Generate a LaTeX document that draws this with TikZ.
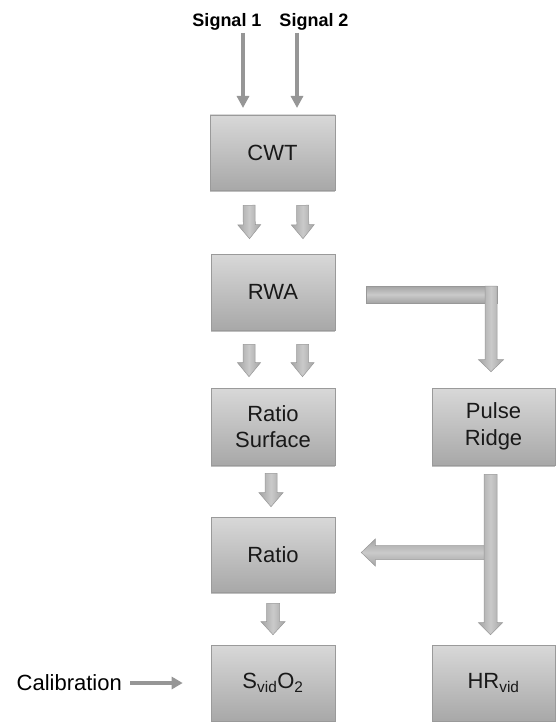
\documentclass[tikz,border=0pt]{standalone}
\usepackage{fontspec}
\setmainfont{Liberation Sans}
\usetikzlibrary{calc,arrows.meta,shadows}
\definecolor{boxtop}{HTML}{D8D8D8}
\definecolor{boxbot}{HTML}{A8A8A8}
\definecolor{boxline}{HTML}{9A9A9A}
\definecolor{arredge}{HTML}{A4A4A4}
\definecolor{arrmid}{HTML}{CACACA}
\definecolor{arrline}{HTML}{989898}
\definecolor{thinarr}{HTML}{969696}
\tikzset{
  procbox/.style={draw=boxline, line width=0.6pt, top color=boxtop, bottom color=boxbot,
    minimum width=124pt, minimum height=76pt, inner sep=2pt, align=center,
    font=\fontsize{22}{26.5}\selectfont, text=black!90,
    drop shadow={shadow xshift=0pt, shadow yshift=-2pt, opacity=0.25, fill=black}},
  fatv/.style={draw=arrline, line width=0.5pt, left color=arredge, right color=arredge, middle color=arrmid},
  fath/.style={draw=arrline, line width=0.5pt, top color=arredge, bottom color=arredge, middle color=arrmid},
  thinarrow/.style={draw=thinarr, line width=3.5pt, -{Triangle[width=12pt,length=12pt]}},
  siglabel/.style={font=\fontsize{18}{21}\selectfont\bfseries, inner sep=0pt, anchor=base},
}
% fat arrow from coordinate #2 to tip #3; #4 shaft half width, #5 head half width, #6 head length
\newcommand\fatarrow[6]{%
  \coordinate (fa@s) at (#2);
  \coordinate (fa@e) at (#3);
  \coordinate (fa@b) at ($(fa@e)!#6!(fa@s)$);
  \path[#1] ($(fa@s)!#4!90:(fa@e)$) -- ($(fa@b)!#4!90:(fa@e)$) -- ($(fa@b)!#5!90:(fa@e)$)
    -- (fa@e) -- ($(fa@b)!#5!-90:(fa@e)$) -- ($(fa@b)!#4!-90:(fa@e)$)
    -- ($(fa@s)!#4!-90:(fa@e)$) -- cycle;
}
\begin{document}
\begin{tikzpicture}[x=1pt,y=-1pt]
\useasboundingbox (0,0) rectangle (558,722);

% boxes
\node[procbox, minimum width=125pt, minimum height=75pt] (cwt) at (272.5,152.5) {CWT};
\node[procbox] (rwa) at (273,292) {RWA};
\node[procbox, minimum height=77pt] (rs) at (273,426.5) {Ratio\\Surface};
\node[procbox, minimum width=123pt, minimum height=77pt] (pr) at (493.5,426.5) {Pulse\\Ridge};
\node[procbox, minimum height=75pt] (ratio) at (273,554.5) {Ratio};
\node[procbox] (svid) at (273,683) {S\textsubscript{vid}O\textsubscript{2}};
\node[procbox, minimum width=123pt] (hr) at (493.5,683) {HR\textsubscript{vid}};

% signal labels
\node[siglabel] (sig1) at (227,27) {Signal 1};
\node[siglabel] (sig2) at (314,27) {Signal 2};
\node[font=\fontsize{22}{26}\selectfont, inner sep=0pt, anchor=base east] (calib) at (122,690) {Calibration};

% thin arrows
\draw[thinarrow] ($(sig1.base)+(16,6)$) -- ($(sig1.base -| cwt.north)+(-29.5,81)$);
\draw[thinarrow] ($(sig2.base)+(-17,6)$) -- ($(sig2.base -| cwt.north)+(24.5,81)$);
\draw[draw=thinarr, line width=4pt, -{Triangle[width=12pt,length=11pt]}, shorten <=8pt, shorten >=28pt] (calib.east |- svid.west) -- (svid.west);

% CWT -> RWA
\fatarrow{fatv}{$(cwt.south)+(-23.5,15)$}{$(rwa.north)+(-23.5,-15)$}{6pt}{11.5pt}{14pt}
\fatarrow{fatv}{$(cwt.south)+(30,15)$}{$(rwa.north)+(30,-15)$}{6pt}{11.5pt}{14pt}
% RWA -> Ratio Surface
\fatarrow{fatv}{$(rwa.south)+(-24,14)$}{$(rs.north)+(-24,-11)$}{6pt}{11.5pt}{14pt}
\fatarrow{fatv}{$(rwa.south)+(29.5,14)$}{$(rs.north)+(29.5,-11)$}{6pt}{11.5pt}{14pt}
% Ratio Surface -> Ratio
\fatarrow{fatv}{$(rs.south)+(-2,8)$}{$(ratio.north)+(-2,-10)$}{6pt}{12pt}{14pt}
% Ratio -> SvidO2
\fatarrow{fatv}{$(ratio.south)+(0,11)$}{$(svid.north)+(0,-10)$}{6.5pt}{12pt}{13pt}

% RWA -> Pulse Ridge (L shape)
\coordinate (lstart) at ($(rwa.east)+(31,2.5)$);
\coordinate (lcorner) at ($(lstart -| pr.north)+(-2.5,0)$);
\path[fath] ($(lstart)+(0,-8.5)$) rectangle ($(lcorner)+(6,8.5)$);
\fatarrow{fatv}{$(lcorner)+(0,-8.5)$}{$(pr.north)+(-2.5,-16)$}{6pt}{12.5pt}{12pt}

% Pulse Ridge -> Ratio and HRvid
\coordinate (tjoin) at ($(pr.south |- ratio.east)+(-3,-2)$);
\fatarrow{fath}{tjoin}{$(ratio.east)+(26,-2)$}{7pt}{13.5pt}{14pt}
\fatarrow{fatv}{$(pr.south)+(-3,9)$}{$(hr.north)+(-3,-10)$}{6.5pt}{12pt}{12pt}
\end{tikzpicture}
\end{document}
